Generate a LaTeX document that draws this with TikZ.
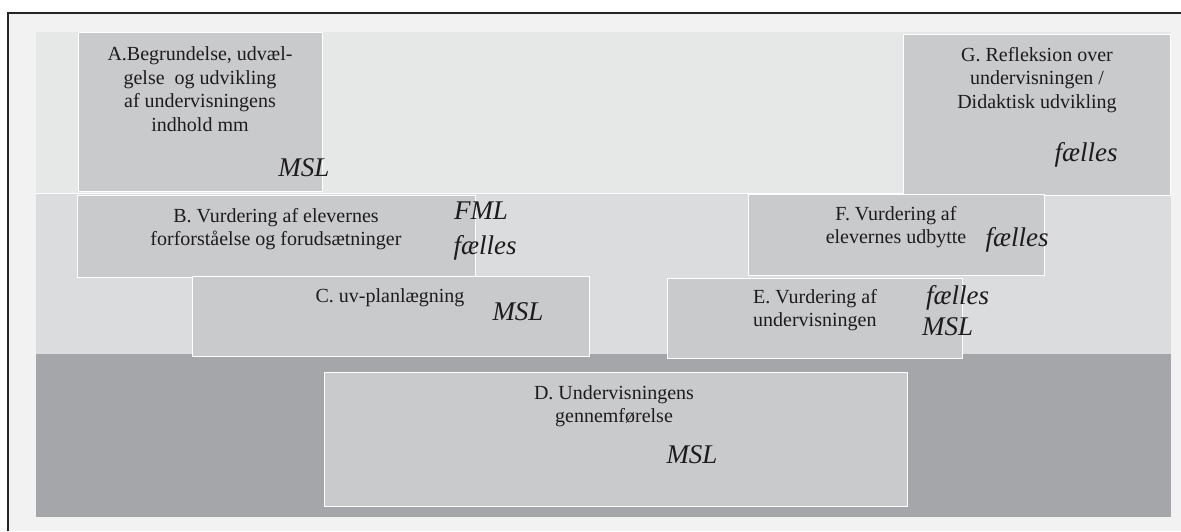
\documentclass[tikz,border=0pt]{standalone}
\usepackage{fontspec}
\setmainfont{Liberation Serif}
\definecolor{framebg}{HTML}{F2F2F2}
\definecolor{bandtop}{HTML}{E6E7E7}
\definecolor{bandmid}{HTML}{DBDCDD}
\definecolor{banddark}{HTML}{A5A6A9}
\definecolor{boxgray}{HTML}{C9CACC}
\definecolor{ink}{HTML}{1E1B1C}
\begin{document}
\begin{tikzpicture}[x=1pt,y=-1pt,
  band/.style={fill=#1, draw=none, inner sep=0pt, outer sep=0pt, anchor=north west},
  box/.style={fill=boxgray, draw=white, line width=1.2pt, inner sep=0pt, anchor=north west},
  txt/.style={font=\fontsize{20}{23.5}\selectfont, text=ink, align=center, inner sep=0pt},
  who/.style={font=\fontsize{27}{30}\selectfont\itshape, text=ink, inner sep=0pt}]
\useasboundingbox (0,0) rectangle (1181,531);

% outer frame
\path[fill=framebg] (8,13) rectangle (1181,531);
\draw[line width=1.6pt, color=black!85] (8,531) -- (8,13) -- (1181,13);

% three horizontal bands
\node[band=bandtop,  minimum width=1135pt, minimum height=161pt] (btop)  at (36,32)  {};
\node[band=bandmid,  minimum width=1135pt, minimum height=161pt] (bmid)  at (36,193) {};
\node[band=banddark, minimum width=1135pt, minimum height=163pt] (bdark) at (36,354) {};
\draw[white, line width=0.8pt] (btop.south west) -- (btop.south east);

% activity boxes
\node[box, minimum width=244pt, minimum height=159pt] (A) at (78,32)  {};
\node[box, minimum width=267pt, minimum height=161pt] (G) at (903,34) {};
\node[box, minimum width=398pt, minimum height=82pt]  (B) at (77,195) {};
\node[box, minimum width=296pt, minimum height=81pt]  (F) at (748,194) {};
\node[box, minimum width=397pt, minimum height=80pt]  (C) at (192,276) {};
\node[box, minimum width=295pt, minimum height=80pt]  (E) at (667,278) {};
\node[box, minimum width=583pt, minimum height=134pt] (D) at (324,372) {};

% box texts
\node[txt] (Atxt) at (200,89) {A.Begrundelse, udvæl-\\gelse~~og udvikling\\af undervisningens\\indhold mm};
\node[who] (Awho) at (304,168) {MSL};

\node[txt] (Gtxt) at (1037,80) {G. Refleksion over\\undervisningen /\\Didaktisk udvikling};
\node[who] (Gwho) at (1086,155) {fælles};

\node[txt] (Btxt) at (276,229) {B. Vurdering af elevernes\\forforståelse og forudsætninger};
\node[who] (Bwho1) at (481,211) {FML};
\node[who] (Bwho2) at (485,248) {fælles};

\node[txt] (Ftxt) at (896,227) {F. Vurdering af\\elevernes udbytte};
\node[who] (Fwho) at (1017,240) {fælles};

\node[txt] (Ctxt) at (390,298) {C. uv-planlægning};
\node[who] (Cwho) at (518,312) {MSL};

\node[txt, align=left, anchor=west] (Etxt) at (753,310) {E. Vurdering af\\undervisningen};
\node[who, anchor=west] (Ewho1) at (926,298) {fælles};
\node[who, anchor=west] (Ewho2) at (922,327) {MSL};

\node[txt] (Dtxt) at (614,406) {D. Undervisningens\\gennemførelse};
\node[who] (Dwho) at (692,455) {MSL};
\end{tikzpicture}
\end{document}
